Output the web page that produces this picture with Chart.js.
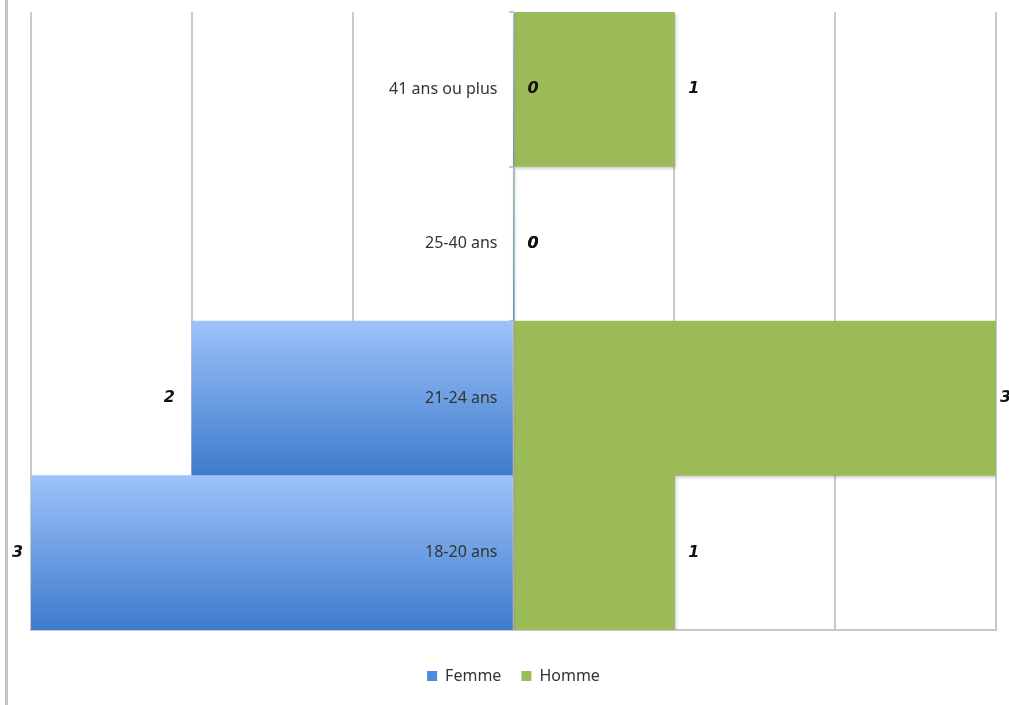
<!DOCTYPE html>
<html lang="fr">
<head>
    <meta charset="UTF-8">
    <title>Femme / Homme par âge</title>
    <script src="https://cdn.jsdelivr.net/npm/chart.js"></script>
    <style>
        body {
            margin: 0;
            background: #ffffff;
            overflow: hidden;
        }
        #wrap {
            width: 1009px;
            height: 705px;
        }
    </style>
</head>
<body>
    <div id="wrap"><canvas id="pyramid"></canvas></div>

    <script>
        // age groups, top to bottom
        const ageGroups = ['41 ans ou plus', '25-40 ans', '21-24 ans', '18-20 ans'];
        const femme = [0, 0, 2, 3];
        const homme = [1, 0, 3, 1];
        const xTicks = [-3, -2, -1, 0, 1, 2, 3];

        const gridGrey = '#c9c9c9';

        // blue gradient for each Femme bar, light on top, dark at the bottom
        function femmeFill(ctx) {
            const chart = ctx.chart;
            const y = chart.scales.y;
            if (!y || !chart.chartArea) return '#5d93dd';
            const c = y.getPixelForValue(ctx.dataIndex);
            const h = chart.chartArea.height / ageGroups.length;
            const g = chart.ctx.createLinearGradient(0, c - h / 2, 0, c + h / 2);
            g.addColorStop(0, '#9cc2fa');
            g.addColorStop(1, '#3e7bcb');
            return g;
        }

        // thin grey frame on the left side
        const framePlugin = {
            id: 'frame',
            beforeDraw(chart) {
                const c = chart.ctx;
                c.save();
                c.fillStyle = '#c4c4c4';
                c.fillRect(5, 0, 3, chart.height);
                c.restore();
            }
        };

        // soft drop shadow under the bars
        const barShadow = {
            id: 'barShadow',
            beforeDatasetsDraw(chart) {
                const c = chart.ctx;
                c.save();
                c.shadowColor = 'rgba(0, 0, 0, 0.22)';
                c.shadowBlur = 3;
                c.shadowOffsetX = 1;
                c.shadowOffsetY = 2;
            },
            afterDatasetsDraw(chart) {
                chart.ctx.restore();
            }
        };

        // age labels just left of the zero line, over the bars
        const ageLabels = {
            id: 'ageLabels',
            afterDatasetsDraw(chart) {
                const c = chart.ctx;
                const x0 = chart.scales.x.getPixelForValue(0);
                c.save();
                c.font = '16px "Noto Sans"';
                c.fillStyle = '#333333';
                c.textAlign = 'right';
                c.textBaseline = 'middle';
                ageGroups.forEach((g, i) => {
                    c.fillText(g, x0 - 16, chart.scales.y.getPixelForValue(i));
                });
                c.restore();
            }
        };

        // value labels at the end of each bar
        const valueLabels = {
            id: 'valueLabels',
            afterDatasetsDraw(chart) {
                const c = chart.ctx;
                c.save();
                c.font = 'italic bold 16px "DejaVu Sans"';
                c.fillStyle = '#111111';
                c.textBaseline = 'middle';
                chart.data.datasets.forEach((ds, i) => {
                    const raw = i === 0 ? femme : homme;
                    chart.getDatasetMeta(i).data.forEach((bar, j) => {
                        const v = ds.data[j];
                        const txt = String(raw[j]);
                        if (v < 0) {
                            c.textAlign = 'right';
                            const w = c.measureText(txt).width;
                            c.fillText(txt, Math.max(bar.x - 17, 12 + w), bar.y);
                        } else {
                            c.textAlign = 'left';
                            c.fillText(txt, Math.min(bar.x + 14, 1000), bar.y);
                        }
                    });
                });
                c.restore();
            }
        };

        new Chart(document.getElementById('pyramid'), {
            type: 'bar',
            data: {
                labels: ageGroups,
                datasets: [
                    {
                        label: 'Femme',
                        data: femme.map(v => -v),
                        backgroundColor: femmeFill,
                        borderWidth: 0
                    },
                    {
                        label: 'Homme',
                        data: homme,
                        backgroundColor: '#9bbb59',
                        borderWidth: 0
                    }
                ]
            },
            options: {
                indexAxis: 'y',
                responsive: true,
                maintainAspectRatio: false,
                animation: false,
                barPercentage: 1,
                categoryPercentage: 1,
                layout: {
                    padding: { left: 31, right: 13, top: 12, bottom: 11 }
                },
                scales: {
                    x: {
                        stacked: true,
                        min: -3,
                        max: 3,
                        afterBuildTicks(scale) {
                            scale.ticks = xTicks.map(v => ({ value: v }));
                        },
                        afterFit(scale) {
                            scale.height += 18;
                        },
                        ticks: { display: false },
                        grid: { color: gridGrey, lineWidth: 2, drawTicks: false },
                        border: { color: gridGrey, width: 2 }
                    },
                    y: {
                        stacked: true,
                        position: { x: 0 },
                        grid: {
                            drawOnChartArea: false,
                            drawTicks: true,
                            tickLength: 5,
                            color: gridGrey,
                            lineWidth: 2
                        },
                        border: { display: false },
                        ticks: { display: false }
                    }
                },
                plugins: {
                    tooltip: { enabled: false },
                    legend: {
                        position: 'bottom',
                        labels: {
                            boxWidth: 10,
                            boxHeight: 10,
                            padding: 20,
                            color: '#333333',
                            font: { family: '"Noto Sans"', size: 16 },
                            generateLabels(chart) {
                                const fills = ['#4f8bdb', '#9bbb59'];
                                return chart.data.datasets.map((ds, i) => ({
                                    text: ds.label,
                                    fillStyle: fills[i],
                                    strokeStyle: fills[i],
                                    lineWidth: 0,
                                    datasetIndex: i,
                                    fontColor: '#333333'
                                }));
                            }
                        }
                    }
                }
            },
            plugins: [framePlugin, barShadow, ageLabels, valueLabels]
        });
    </script>
</body>
</html>
